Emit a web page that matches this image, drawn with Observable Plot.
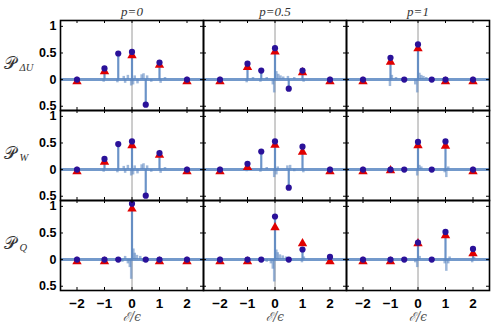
<!DOCTYPE html>
<html><head><meta charset="utf-8">
<script src="https://cdn.jsdelivr.net/npm/d3@7"></script>
<script src="https://cdn.jsdelivr.net/npm/@observablehq/plot@0.6"></script>
<style>body{margin:0;background:#fff}</style>
</head><body><div id="chart"></div>
<script>
const pValues = ["0", "0.5", "1"];
const quantities = ["ΔU", "W", "Q"];
const dotX = [-2, -1, -0.5, 0, 0.5, 1, 2];
const triX = [-2, -1, 0, 1, 2];
const xTicks = [-2, -1, 0, 1, 2];
const yTicks = [-0.5, 0, 0.5, 1];
const xLabel = "ℰ/ϵ";

// blue dots, one array per p value
const dotsDU = [[0, 0.21, 0.49, 0.52, -0.47, 0.32, 0], [0, 0.30, 0.17, 0.59, -0.17, 0.17, 0], [0, 0.41, 0, 0.66, 0, 0, 0]];
const dotsW  = [[0, 0.20, 0.48, 0.53, -0.49, 0.31, 0], [0, 0.11, 0.34, 0.53, -0.34, 0.43, 0], [0, 0, 0, 0.52, 0, 0.53, 0]];
const dotsQ  = [[0, 0, 0, 1.05, 0, 0, 0], [0, 0, 0, 0.81, 0, 0.19, 0.05], [0, 0, 0, 0.32, 0, 0.52, 0.20]];
// red triangles
const trisDU = [[0, 0.19, 0.49, 0.31, 0], [0, 0.27, 0.56, 0.17, 0], [0, 0.37, 0.62, 0, 0]];
const trisW  = [[0, 0.18, 0.49, 0.31, 0], [0, 0.08, 0.50, 0.37, 0], [0, 0.02, 0.49, 0.48, 0]];
const trisQ  = [[0, 0, 0.99, 0, 0], [0, 0, 0.64, 0.34, 0], [0, 0, 0.34, 0.49, 0.15]];
// reconstructed signal: main peaks [x, height]
const peaksDU = [
  [[-1, 0.2], [-0.5, 0.48], [0, 0.56], [0.5, -0.47], [1, 0.3]],
  [[-1, 0.3], [-0.5, 0.17], [0, 0.6], [0.5, -0.17], [1, 0.17]],
  [[-1, 0.41], [0, 0.68]]
];
const peaksW = [
  [[-1, 0.2], [-0.5, 0.48], [0, 0.56], [0.5, -0.49], [1, 0.3]],
  [[-1, 0.1], [-0.5, 0.34], [0, 0.55], [0.5, -0.34], [1, 0.43]],
  [[0, 0.55], [1, 0.53]]
];
const peaksQ = [
  [[0, 1.05]],
  [[0, 0.82], [1, 0.2], [2, 0.05]],
  [[0, 0.32], [1, 0.52], [2, 0.2]]
];
// ripples and side lobes of the signal [x, height]
const ripplesDU = [
  [[-1.03, -0.05], [-0.53, -0.06], [-0.3, 0.06], [-0.25, -0.07], [-0.15, 0.08], [-0.03, -0.12], [0.04, -0.1], [0.1, 0.07], [0.2, -0.08], [0.35, 0.09], [0.42, 0.11], [0.55, 0.07], [0.7, -0.05], [1.04, -0.07], [1.2, 0.04]],
  [[-1.03, -0.06], [-0.8, 0.04], [-0.53, -0.05], [-0.3, 0.04], [-0.03, -0.25], [-0.08, -0.1], [0.05, 0.15], [0.12, 0.1], [0.2, 0.07], [0.3, 0.05], [0.47, 0.06], [0.7, 0.04], [1.04, -0.05]],
  [[-1.02, -0.13], [-0.95, 0.08], [-0.8, 0.04], [-0.03, -0.25], [-0.1, -0.1], [0.05, 0.12], [0.12, 0.08], [0.2, 0.06], [0.3, 0.04], [0.5, 0.03]]
];
const ripplesW = [
  [[-1.03, -0.05], [-0.53, -0.06], [-0.3, 0.06], [-0.25, -0.07], [-0.15, 0.08], [-0.03, -0.12], [0.04, -0.1], [0.1, 0.07], [0.2, -0.08], [0.35, 0.09], [0.42, 0.11], [0.55, 0.07], [0.7, -0.05], [1.04, -0.07], [1.2, 0.04]],
  [[-1.03, -0.04], [-0.53, -0.05], [-0.3, 0.04], [-0.03, -0.15], [0.05, -0.1], [0.1, 0.05], [0.45, 0.07], [0.55, 0.08], [0.7, -0.04], [1.03, -0.06]],
  [[-0.03, -0.12], [0.05, 0.08], [0.12, 0.05], [0.97, -0.06], [1.03, -0.15], [1.1, 0.05]]
];
const ripplesQ = [
  [[-0.03, -0.37], [-0.08, -0.15], [-0.15, -0.08], [-0.25, 0.06], [-0.35, -0.05], [0.05, 0.2], [0.1, 0.12], [0.18, 0.08], [0.3, 0.06], [0.4, -0.05], [0.5, 0.04]],
  [[-0.03, -0.42], [-0.08, -0.18], [-0.15, -0.08], [-0.3, -0.05], [0.05, 0.18], [0.1, 0.13], [0.18, 0.09], [0.28, 0.07], [0.4, 0.05], [0.98, -0.06], [1.05, 0.05]],
  [[-0.03, -0.15], [-0.1, -0.06], [0.06, 0.06], [0.97, -0.08], [1.03, -0.22], [1.1, -0.08], [1.15, 0.05], [1.97, -0.06], [2.04, 0.04]]
];

const dotSets = [dotsDU, dotsW, dotsQ];
const triSets = [trisDU, trisW, trisQ];
const peakSets = [peaksDU, peaksW, peaksQ];
const rippleSets = [ripplesDU, ripplesW, ripplesQ];

const dotData = [], triData = [], peakData = [], rippleData = [];
quantities.forEach((q, qi) => {
  pValues.forEach((p, pi) => {
    dotX.forEach((x, i) => dotData.push({q, p, x, y: dotSets[qi][pi][i]}));
    triX.forEach((x, i) => triData.push({q, p, x, y: triSets[qi][pi][i]}));
    peakSets[qi][pi].forEach(([x, y]) => peakData.push({q, p, x, y}));
    rippleSets[qi][pi].forEach(([x, y]) => rippleData.push({q, p, x, y}));
  });
});

const W = 498, H = 326, mL = 60, mR = 9, mT = 20, mB = 36;
const pw = (W - mL - mR) / 3, ph = (H - mT - mB) / 3;
const sig = "#5b87c2";
const bold = "'Liberation Sans', Arial, sans-serif";

const chart = Plot.plot({
  width: W, height: H,
  marginLeft: mL, marginRight: mR, marginTop: mT, marginBottom: mB,
  style: {background: "#fff", fontFamily: bold},
  x: {domain: [-2.6, 2.6]},
  y: {domain: [-0.58, 1.11]},
  fx: {domain: pValues, padding: 0, axis: null},
  fy: {domain: quantities, padding: 0, axis: null},
  marks: [
    Plot.ruleX([0], {stroke: "#9a9a9a", strokeWidth: 1}),
    Plot.ruleY([0], {stroke: sig, strokeWidth: 3, strokeOpacity: 0.85}),
    Plot.ruleX(rippleData, {x: "x", y1: 0, y2: "y", fx: "p", fy: "q", stroke: sig, strokeWidth: 2.5, strokeOpacity: 0.6}),
    Plot.ruleX(peakData, {x: "x", y1: 0, y2: "y", fx: "p", fy: "q", stroke: sig, strokeWidth: 2.2, strokeOpacity: 0.9}),
    Plot.dot(triData, {x: "x", y: "y", fx: "p", fy: "q", symbol: "triangle", r: 3.5, fill: "#e00000", dy: 2}),
    Plot.dot(dotData, {x: "x", y: "y", fx: "p", fy: "q", r: 3.1, fill: "#2a1199"}),
    Plot.tickX(xTicks, {x: d => d, insetTop: ph - 3, stroke: "#000"}),
    Plot.tickX(xTicks, {x: d => d, insetBottom: ph - 3, stroke: "#000"}),
    Plot.tickY(yTicks, {y: d => d, insetLeft: pw - 3, stroke: "#000"}),
    Plot.tickY(yTicks, {y: d => d, insetRight: pw - 3, stroke: "#000"}),
    Plot.frame({stroke: "#000", strokeWidth: 1.6}),
    Plot.axisY(yTicks, {anchor: "left", tickSize: 0, tickPadding: 4, label: null, fontSize: 12.5, fontWeight: "bold", fill: "#000",
      tickFormat: d => String(Math.abs(d))}),
    Plot.axisX(xTicks, {anchor: "bottom", tickSize: 0, tickPadding: 8, fontSize: 13.5, fontWeight: "bold", fill: "#000",
      tickFormat: d => d < 0 ? "\u2212" + Math.abs(d) : String(d), label: null}),
    Plot.text(pValues, {fx: d => d, fy: () => quantities[2], text: () => xLabel, frameAnchor: "bottom", lineAnchor: "middle", dy: 27,
      fontSize: 12, fontStyle: "italic", fontFamily: "'DejaVu Serif', serif", fill: "#555"}),
    Plot.axisFx({anchor: "top", tickSize: 0, tickPadding: 5, label: null, fontSize: 13, fontStyle: "italic",
      fontFamily: "'Liberation Serif', 'DejaVu Serif', serif", fill: "#333", tickFormat: d => "p=" + d}),
    Plot.text(quantities, {fy: d => d, fx: () => pValues[0], text: () => "𝒫", frameAnchor: "left", dx: -57, dy: -2,
      textAnchor: "start", fontSize: 17, fontFamily: "'DejaVu Sans', sans-serif", fill: "#333"}),
    Plot.text(quantities, {fy: d => d, fx: () => pValues[0], text: d => d, frameAnchor: "left", dx: -41, dy: 2,
      textAnchor: "start", fontSize: 10.5, fontStyle: "italic", fontFamily: "'Liberation Serif', serif", fill: "#333"})
  ]
});
document.getElementById("chart").appendChild(chart);
</script>
</body></html>
